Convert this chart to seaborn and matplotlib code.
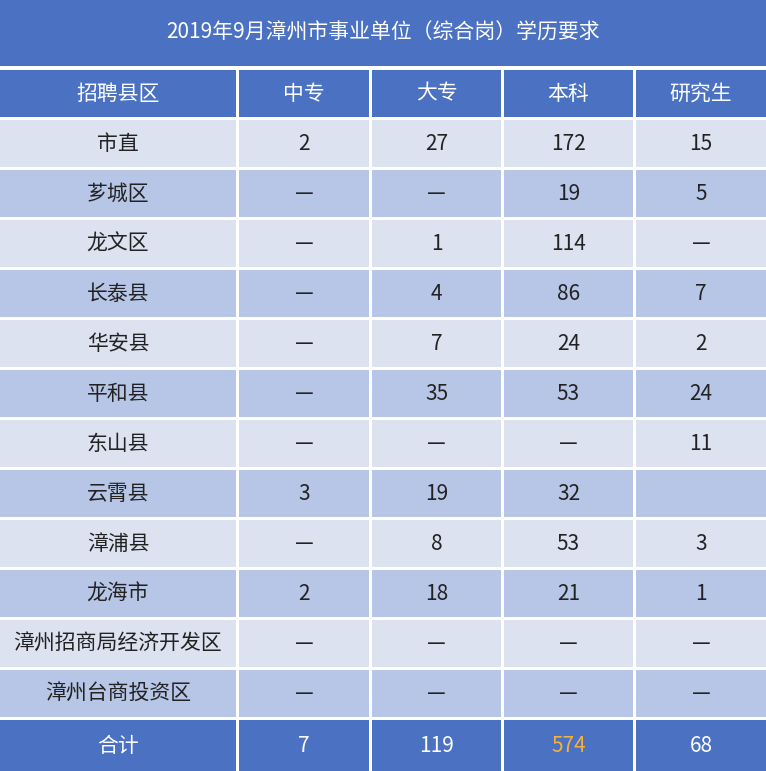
import matplotlib.pyplot as plt
import seaborn as sns

sns.set_theme(style="white")
plt.rcParams['font.family'] = ['Noto Sans CJK SC', 'DejaVu Sans']

title = "2019年9月漳州市事业单位（综合岗）学历要求"
headers = ["招聘县区", "中专", "大专", "本科", "研究生"]
regions = ["市直", "芗城区", "龙文区", "长泰县", "华安县", "平和县", "东山县",
           "云霄县", "漳浦县", "龙海市", "漳州招商局经济开发区", "漳州台商投资区"]
zhongzhuan = ["2", "—", "—", "—", "—", "—", "—", "3", "—", "2", "—", "—"]
dazhuan = ["27", "—", "1", "4", "7", "35", "—", "19", "8", "18", "—", "—"]
benke = ["172", "19", "114", "86", "24", "53", "—", "32", "53", "21", "—", "—"]
yanjiusheng = ["15", "5", "—", "7", "2", "24", "11", "", "3", "1", "—", "—"]
totals = ["合计", "7", "119", "574", "68"]

DARK = "#4b71c2"
LIGHT = "#dde2f0"
MID = "#b7c5e6"

col_x = [0, 239, 372, 504, 636]
col_w = [236, 130, 129, 129, 130]

fig = plt.figure(figsize=(7.66, 7.71), dpi=100)
ax = fig.add_axes([0, 0, 1, 1])
ax.set_xlim(0, 766)
ax.set_ylim(771, 0)
ax.axis("off")

def draw_row(top, h, color, texts, tcolor, size=15, colors=None):
    ax.barh(top + h / 2, col_w, left=col_x, height=h, color=color, linewidth=0)
    for i, t in enumerate(texts):
        c = colors[i] if colors else tcolor
        ax.text(col_x[i] + col_w[i] / 2, top + h / 2, t, ha="center", va="center",
                fontsize=size, color=c)

# title
ax.barh(33, 766, left=0, height=66, color=DARK, linewidth=0)
ax.text(383, 33, title, ha="center", va="center", fontsize=15, color="white")

draw_row(70, 47, DARK, headers, "white", size=15)
for r in range(len(regions)):
    draw_row(120 + 50 * r, 47, LIGHT if r % 2 == 0 else MID,
             [regions[r], zhongzhuan[r], dazhuan[r], benke[r], yanjiusheng[r]], "#222222")
draw_row(720, 51, DARK, totals, "white",
         colors=["white", "white", "white", "#f3b23e", "white"])

fig.savefig("out.png", dpi=100)
